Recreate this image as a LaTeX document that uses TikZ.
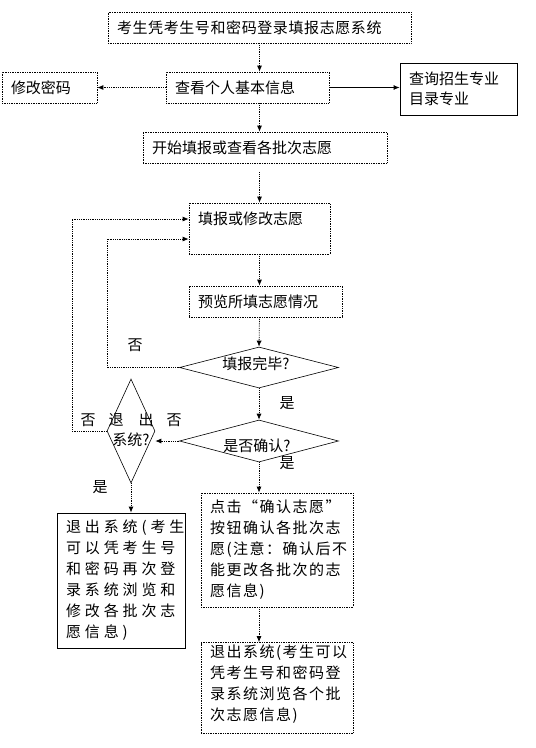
\documentclass[tikz,border=0pt]{standalone}
\usepackage{fontspec}
\newfontfamily\cjk{Noto Sans CJK SC}
\newfontfamily\cjkwide[LetterSpace=26]{Noto Sans CJK SC}
\newfontfamily\cjkmid[LetterSpace=10]{Noto Sans CJK SC}
\newfontfamily\cjknar[LetterSpace=4]{Noto Sans CJK SC}
\usetikzlibrary{arrows.meta,shapes.geometric,calc}
\begin{document}
\begin{tikzpicture}[x=1pt,y=-1pt,
 every node/.style={font=\cjk\fontsize{15}{21}\selectfont},
 box/.style={draw, densely dotted, line width=0.7pt, inner xsep=9pt, inner ysep=0pt, align=left},
 solidbox/.style={draw, line width=0.8pt, inner xsep=9pt, inner ysep=0pt, align=left},
 dia/.style={draw, diamond, inner sep=0pt, line width=0.6pt},
 link/.style={densely dotted, line width=0.8pt, -{Latex[length=6pt,width=5pt]}},
 lbl/.style={inner sep=0pt}]
\useasboundingbox (0,0) rectangle (536,748);
% boxes
\node[box, text width=285pt, minimum height=31pt, font=\cjknar\fontsize{15}{21}\selectfont] (b1) at (259.5,27.5) {考生凭考生号和密码登录填报志愿系统};
\node[box, text width=77pt, minimum height=31pt] (pw) at (49.5,87.5) {修改密码};
\node[box, text width=145pt, minimum height=31pt] (info) at (247.5,87.5) {查看个人基本信息};
\node[solidbox, text width=99pt, minimum height=52pt, font=\cjk\fontsize{15}{20}\selectfont] (query) at (458.5,89) {查询招生专业\\目录专业};
\node[box, text width=226pt, minimum height=31pt] (start) at (265,147.5) {开始填报或查看各批次志愿};
\node[box, text width=123pt, text height=21pt, text depth=30pt] (fill) at (259.5,228.5) {填报或修改志愿};
\node[box, text width=135pt, minimum height=31pt] (prev) at (265.5,301.5) {预览所填志愿情况};
% diamonds
\node[dia, minimum width=159pt, minimum height=41pt] (d1) at (259,367.5) {};
\node[dia, minimum width=159pt, minimum height=42pt] (d2) at (259,441) {};
\node[dia, minimum width=48pt, minimum height=104pt] (d3) at (131,431) {};
\node[lbl] (t1) at (256,364) {填报完毕?};
\node[lbl] (t2) at (257,446) {是否确认?};
\node[lbl, align=center, font=\cjk\fontsize{15}{20}\selectfont] (t3) at (131,430) {退　出\\系统?};
% lower boxes
\node[solidbox, text width=110pt, minimum height=135pt, font=\cjkwide\fontsize{15}{21}\selectfont] (exit1) at (121,580.5) {退出系统(考生\\可以凭考生号\\和密码再次登\\录系统浏览和\\修改各批次志\\愿信息)};
\node[box, text width=134pt, minimum height=114pt, font=\cjkmid\fontsize{15}{21}\selectfont] (click) at (277,550) {点击“确认志愿”\\按钮确认各批次志\\愿(注意：确认后不\\能更改各批次的志\\愿信息)};
\node[box, text width=134pt, text height=15pt, text depth=76pt, font=\cjkmid\fontsize{15}{21}\selectfont] (exit2) at (277,688) {退出系统(考生可以\\凭考生号和密码登\\录系统浏览各个批\\次志愿信息)};
% labels
\node[lbl] (n1) at (135,345) {否};
\node[lbl] (y1) at (287,403) {是};
\node[lbl] (n2) at (88,420) {否};
\node[lbl] (n3) at (174,420) {否};
\node[lbl] (y2) at (287,463) {是};
\node[lbl] (y3) at (100,487) {是};
% connectors
\draw[link] (b1.south) -- (b1.south |- info.north);
\draw[link] (b1.south |- info.south) -- (b1.south |- start.north);
\draw[link] (info.west) -- (pw.east);
\draw[link, solid] (info.east) -- (info.east -| query.west);
\coordinate (s1) at ($(b1.south |- start.south)+(0,9)$);
\draw[link] (s1) -- (b1.south |- fill.north);
\draw[link] (fill.south) -- (fill.south |- prev.north);
\draw[link] (fill.south |- prev.south) -- (d1.north);
\draw[link] (d1.south) -- (d2.north);
\draw[link] (d2.south) -- (d2.south |- click.north);
\draw[link] (d2.south |- click.south) -- (d2.south |- exit2.north);
\draw[link] (d2.west) -- (d2.west -| d3.east);
\draw[link] (d3.south) -- (d3.south |- exit1.north);
\coordinate (L2) at (107,239);
\draw[link] (d1.west) -| (L2) -- (L2 -| fill.west);
\coordinate (L1) at (72,219);
\draw[link] (d3.west) -| (L1) -- (L1 -| fill.west);
\end{tikzpicture}
\end{document}
